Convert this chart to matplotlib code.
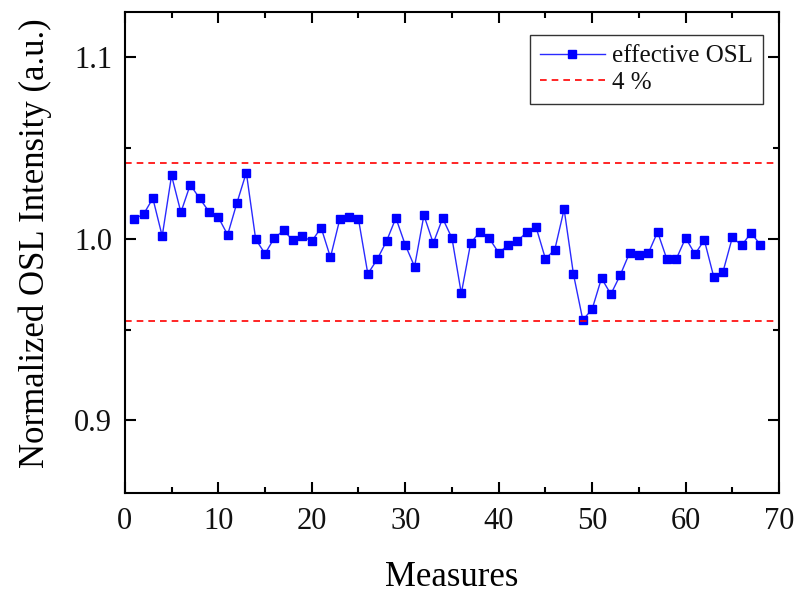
import matplotlib.pyplot as plt
import numpy as np
from matplotlib.ticker import MultipleLocator

measures = np.arange(1, 69)
osl = [1.011, 1.0135, 1.0223, 1.0015, 1.0349, 1.0146, 1.0298, 1.0223, 1.015, 1.0119,
       1.0022, 1.0199, 1.0365, 0.9998, 0.9918, 1.0005, 1.0046, 0.9991, 1.0015, 0.9986,
       1.0062, 0.9898, 1.0108, 1.0119, 1.0108, 0.9807, 0.9887, 0.9987, 1.0115, 0.9967,
       0.9847, 1.013, 0.9976, 1.0113, 1.0004, 0.9699, 0.9976, 1.004, 1.0002, 0.9923,
       0.9964, 0.9987, 1.0037, 1.0064, 0.989, 0.994, 1.0163, 0.9805, 0.9553, 0.9613,
       0.9783, 0.9695, 0.98, 0.9922, 0.9912, 0.992, 1.0038, 0.9887, 0.9889, 1.0005,
       0.9916, 0.9993, 0.9792, 0.9819, 1.0008, 0.9964, 1.0033, 0.9967]
upper_limit = 1.042
lower_limit = 0.955

plt.rcParams['font.family'] = ['Liberation Serif', 'DejaVu Serif']
plt.rcParams['text.color'] = '#111111'

fig = plt.figure(figsize=(7.95, 5.94), dpi=100)
ax = fig.add_axes([0.157, 0.170, 0.823, 0.810])

ax.plot(measures, osl, color='#2a2aff', lw=1.0, marker='s', ms=5.5, mfc='blue',
        mec='blue', label='effective OSL')
ax.axhline(upper_limit, color='red', ls=(0, (4, 3)), lw=1.2, label='4 %')
ax.axhline(lower_limit, color='red', ls=(0, (4, 3)), lw=1.2)

ax.set_xlim(0, 70)
ax.set_ylim(0.86, 1.125)
ax.xaxis.set_major_locator(MultipleLocator(10))
ax.xaxis.set_minor_locator(MultipleLocator(5))
ax.yaxis.set_major_locator(MultipleLocator(0.1))
ax.yaxis.set_minor_locator(MultipleLocator(0.05))
ax.yaxis.set_major_formatter(plt.FormatStrFormatter('%.1f'))

ax.tick_params(which='both', direction='in', top=True, right=True, width=1.5,
               labelsize=22, labelcolor='#111111')
ax.tick_params(axis='x', pad=10)
ax.tick_params(axis='y', pad=9)
ax.tick_params(which='major', length=8)
ax.tick_params(which='minor', length=4)
for sp in ax.spines.values():
    sp.set_linewidth(1.5)

ax.set_xlabel('Measures', fontsize=25, labelpad=18)
ax.set_ylabel('Normalized OSL Intensity (a.u.)', fontsize=25)
ax.yaxis.set_label_coords(-0.112, 0.52)

leg = ax.legend(loc='upper right', fontsize=18, fancybox=False, edgecolor='#333333',
                framealpha=1, borderpad=0.4, handlelength=2.6, handletextpad=0.3,
                labelspacing=0.15, borderaxespad=0, bbox_to_anchor=(0.9755, 0.952))
leg.get_frame().set_linewidth(1.0)

fig.savefig('out.png', dpi=100)
